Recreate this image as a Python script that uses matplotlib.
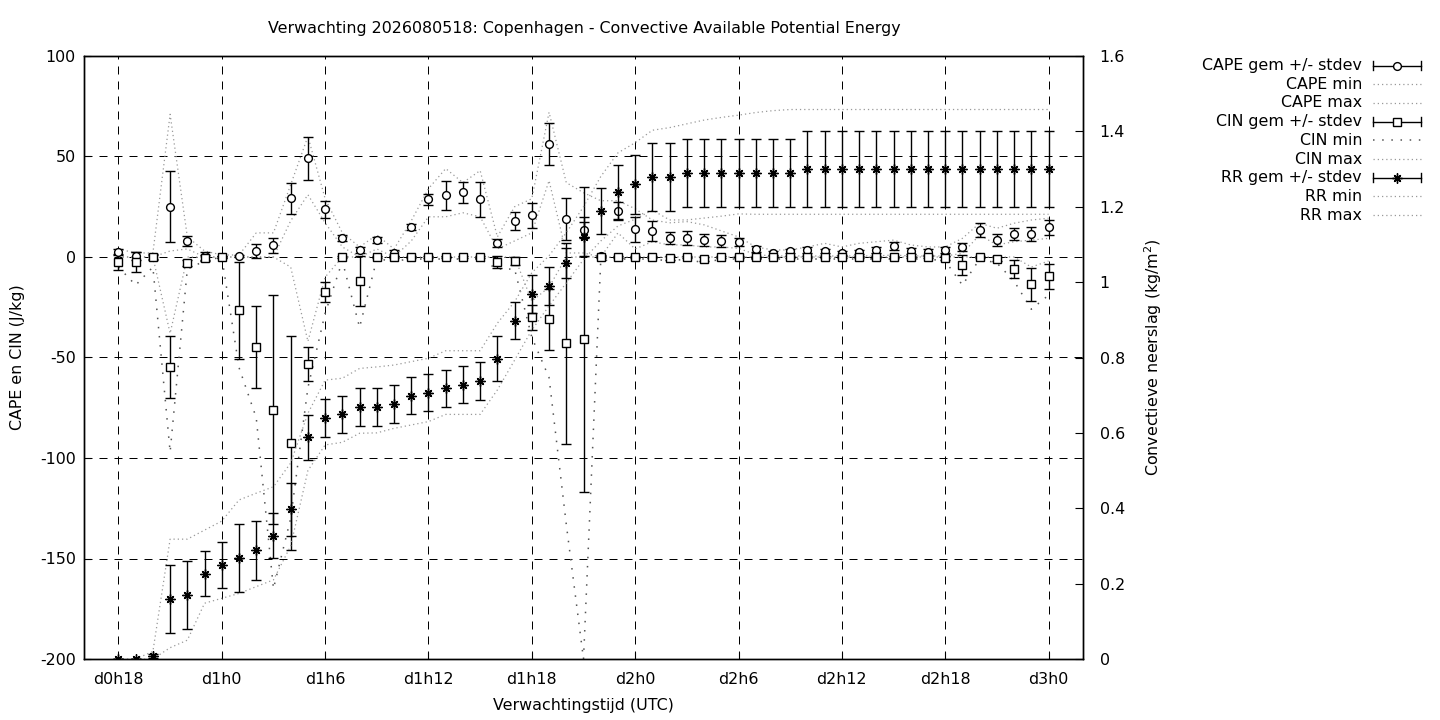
import matplotlib
matplotlib.use("Agg")
import matplotlib.pyplot as plt
from matplotlib.lines import Line2D

FS = 11.4
plt.rcParams['font.family'] = ['DejaVu Sans']
plt.rcParams['font.size'] = FS

hours = list(range(18, 73))
tick_hours = [18, 24, 30, 36, 42, 48, 54, 60, 66, 72]
tick_labels = ["d0h18", "d1h0", "d1h6", "d1h12", "d1h18", "d2h0", "d2h6", "d2h12", "d2h18", "d3h0"]

cape_mean = [2.5, 0.5, 0, 25, 8, 0.5, 0, 0.5, 2.8, 5.8,
             29.2, 49.1, 23.7, 9.3, 3.3, 8.3, 2.1, 14.8, 28.7, 30.7,
             32.3, 28.7, 7, 17.8, 20.7, 56.1, 18.8, 13.4, 0.3, 22.8,
             13.8, 13.1, 9.6, 9.6, 8.5, 8, 7.5, 4, 2.1, 2.8,
             3.3, 2.8, 1.8, 2.3, 3.3, 5.5, 3, 2.3, 3.3, 5.1,
             13.4, 8.3, 11.4, 11.4, 14.8]
cape_std = [1.5, 2, 1, 17.6, 2.5, 2, 0.5, 0.5, 3.5, 3.7,
            7.6, 10.7, 4.2, 1.5, 1.5, 1.5, 1.5, 1.5, 2.7, 7.2,
            5.2, 8.6, 2, 4.6, 6.4, 10.5, 10.4, 4, 0.5, 4.5,
            6.2, 5, 3, 3.5, 3, 3, 2, 1.5, 1, 1,
            1.5, 1, 1, 1, 1.5, 2, 1.5, 1.5, 1.5, 2,
            3.5, 3, 3, 3.5, 3.8]
cape_max = [4, 2, 2, 71, 10, 3, 1, 1, 12, 12,
            36, 60, 29, 12, 5, 11, 4, 18, 34, 44,
            37, 43, 10, 25, 29, 72, 37, 32, 28, 28,
            24, 18.4, 17, 17.6, 16, 13, 10, 5, 3.5, 3.5,
            5, 6.8, 5, 6.8, 7.6, 8.4, 6, 5, 5, 9.3,
            16.8, 14.3, 16.8, 18.4, 19.3]
cape_min = [0, 0, 0, 3, 4, 0, 0, 0, 0, 0,
            18, 31, 17, 5, 0, 4, 0, 8, 20, 20,
            22, 20, 4, 8, 12, 38, 2, 2, 0, 12,
            4, 7.6, 6, 6, 5, 5, 4.3, 1.2, 0.5, 0.5,
            0.5, 0.5, 0.5, 0.5, 0.5, 1, 0.5, 0.5, 0.5, 1.8,
            11, 6, 7.6, 8.4, 9.3]

cin_mean = [-2.6, -2.3, 0, -54.7, -3.1, -0.5, 0, -26.5, -44.8, -76,
            -92.5, -53.2, -17.2, 0, -12.1, 0, 0, 0, 0, 0,
            0, 0, -2.7, -1.9, -30, -31, -43, -41, 0, 0,
            0, 0, -0.5, 0, -1, 0, 0, 0, 0, 0,
            0, 0, 0, 0, 0, 0, 0, 0, -0.5, -4,
            0, -1, -6, -13.6, -9.7]
cin_std = [4, 5, 1.5, 15.6, 1.5, 1.5, 0.5, 24, 20.5, 57,
           53.4, 8.5, 5, 0.5, 12.4, 0.5, 0.5, 0.5, 0.5, 0.5,
           0.5, 0.5, 3, 2, 6.3, 15.3, 50, 76, 0.5, 0.5,
           0.5, 0.5, 1, 0.5, 1, 0.5, 0.5, 0.5, 0.5, 0.5,
           0.5, 0.5, 0.5, 0.5, 0.5, 0.5, 0.5, 0.5, 1, 5,
           0.5, 1, 4.6, 8.1, 6.3]
cin_min = [-5, -14, -5, -97, -6, -2, 0, -55, -80, -165,
           -130, -65, -28, -2, -35, -1, -2, -1, -1, -1,
           -1, -1, -6, -6, -40, -60, -133, -200, -2, -1,
           -1, -1, -2, -1, -3, -1, -1, -1, -1, -1,
           -1, -1, -1, -1, -1, -1, -1, -1, -2, -14,
           -1, -3, -12, -26, -19]
cin_max = [0, 0, 0, -38, 0, 0, 0, 0, 0, 0,
           -5, -42, -10, 0, 0, 0, 0, 0, 0, 0,
           0, 0, 0, 0, -22, -15, 0, 0, 0, 0,
           0, 0, 0, 0, 0, 0, 0, 0, 0, 0,
           0, 0, 0, 0, 0, 0, 0, 0, 0, 0,
           0, 0, 0, -5, -2]

rr_mean = [0, 0, 0.008, 0.16, 0.169, 0.226, 0.249, 0.267, 0.288, 0.327,
           0.397, 0.588, 0.639, 0.649, 0.668, 0.668, 0.677, 0.699, 0.707, 0.718,
           0.728, 0.738, 0.797, 0.898, 0.968, 0.99, 1.05, 1.12, 1.189, 1.239,
           1.26, 1.278, 1.278, 1.29, 1.29, 1.29, 1.29, 1.29, 1.29, 1.29,
           1.30, 1.30, 1.30, 1.30, 1.30, 1.30, 1.30, 1.30, 1.30, 1.30,
           1.30, 1.30, 1.30, 1.30, 1.30]
rr_std = [0, 0, 0.005, 0.09, 0.09, 0.06, 0.061, 0.09, 0.079, 0.06,
          0.071, 0.059, 0.05, 0.05, 0.05, 0.05, 0.05, 0.05, 0.05, 0.05,
          0.05, 0.05, 0.06, 0.05, 0.05, 0.05, 0.04, 0.052, 0.06, 0.072,
          0.078, 0.09, 0.09, 0.09, 0.09, 0.09, 0.09, 0.09, 0.09, 0.09,
          0.10, 0.10, 0.10, 0.10, 0.10, 0.10, 0.10, 0.10, 0.10, 0.10,
          0.10, 0.10, 0.10, 0.10, 0.10]
rr_max = [0, 0, 0.02, 0.318, 0.318, 0.342, 0.366, 0.422, 0.44, 0.457,
          0.52, 0.652, 0.74, 0.745, 0.771, 0.775, 0.78, 0.789, 0.798, 0.818,
          0.818, 0.818, 0.891, 0.948, 1.025, 1.07, 1.131, 1.2, 1.28, 1.343,
          1.37, 1.403, 1.41, 1.42, 1.43, 1.437, 1.443, 1.45, 1.455, 1.458,
          1.458, 1.458, 1.458, 1.458, 1.458, 1.458, 1.458, 1.458, 1.458, 1.458,
          1.458, 1.458, 1.458, 1.458, 1.458]
rr_min = [0, 0, 0, 0.03, 0.05, 0.148, 0.161, 0.174, 0.192, 0.21,
          0.3, 0.5, 0.568, 0.575, 0.599, 0.6, 0.612, 0.621, 0.63, 0.649,
          0.649, 0.649, 0.714, 0.793, 0.873, 0.937, 0.998, 1.06, 1.109, 1.149,
          1.167, 1.191, 1.165, 1.165, 1.17, 1.175, 1.181, 1.18, 1.18, 1.18,
          1.18, 1.18, 1.18, 1.18, 1.18, 1.18, 1.18, 1.18, 1.18, 1.18,
          1.18, 1.18, 1.18, 1.18, 1.18]

W, H = 1440, 720
fig = plt.figure(figsize=(W / 100, H / 100), dpi=100)
ax = fig.add_axes([84 / W, 61 / H, 999 / W, 603 / H])
ax2 = ax.twinx()

# styles
fine_dot = dict(color='#999999', lw=0.9, linestyle=(0, (1, 2.4)))
sparse_dot = dict(color='#555555', lw=1.1, linestyle=(0, (1, 5)))
eb_kw = dict(ecolor='black', elinewidth=1.0, capsize=3.4, capthick=1.0, color='black')

ax.set_xlim(16, 74)
ax.set_ylim(-200, 100)
ax2.set_ylim(0, 1.6)

# grid
for v in [-150, -100, -50, 0, 50]:
    ax.axhline(v, color='black', lw=0.72, linestyle=(0, (8, 7)), zorder=1)
for t in tick_hours:
    ax.axvline(t, color='black', lw=0.72, linestyle=(0, (8, 7)), zorder=1)

# min/max lines
ax.plot(hours, cape_min, zorder=2, **fine_dot)
ax.plot(hours, cape_max, zorder=2, **fine_dot)
ax.plot(hours, cin_min, zorder=2, **sparse_dot)
ax.plot(hours, cin_max, zorder=2, **fine_dot)
ax2.plot(hours, rr_min, zorder=2, **fine_dot)
ax2.plot(hours, rr_max, zorder=2, **fine_dot)

# mean +/- stdev
ax.errorbar(hours, cape_mean, yerr=cape_std, fmt='o', ms=5.6, mfc='white', mec='black',
            mew=1.0, zorder=4, **eb_kw)
ax.errorbar(hours, cin_mean, yerr=cin_std, fmt='s', ms=5.3, mfc='white', mec='black',
            mew=1.0, zorder=4, **eb_kw)
ax2.errorbar(hours, rr_mean, yerr=rr_std, fmt='none', zorder=4, **eb_kw)
ax2.plot(hours, rr_mean, linestyle='none', marker=(4, 2, 0), ms=6.5, mec='black', mew=1.0, zorder=5)
ax2.plot(hours, rr_mean, linestyle='none', marker=(4, 2, 45), ms=6.5, mec='black', mew=1.0, zorder=5)

# axes
ax.set_xticks(tick_hours)
ax.set_xticklabels(tick_labels)
ax.set_yticks([-200, -150, -100, -50, 0, 50, 100])
ax.set_yticklabels(['-200', '-150', '-100', '-50', '0', '50', '100'])
ax2.set_yticks([0, 0.2, 0.4, 0.6, 0.8, 1, 1.2, 1.4, 1.6])
ax2.set_yticklabels(['0', '0.2', '0.4', '0.6', '0.8', '1', '1.2', '1.4', '1.6'])
ax.tick_params(axis='x', direction='in', length=5, width=0.8, pad=9, labelsize=FS)
ax.tick_params(axis='y', direction='in', length=5, width=0.8, pad=6, labelsize=FS)
ax2.tick_params(axis='y', direction='in', length=6, width=0.8, pad=12, labelsize=FS)
for a in (ax, ax2):
    for s in a.spines.values():
        s.set_linewidth(1.0)

ax.set_xlabel('Verwachtingstijd (UTC)', fontsize=FS, labelpad=8)
fig.text(18 / W, 1 - 357 / H, 'CAPE en CIN (J/kg)', rotation=90, ha='center', va='center', fontsize=FS)
fig.text(1153 / W, 1 - 357 / H, 'Convectieve neerslag (kg/m$^2$)', rotation=90, ha='center', va='center', fontsize=FS)
fig.text(584 / W, 1 - 29 / H, 'Verwachting 2026080518: Copenhagen - Convective Available Potential Energy',
         ha='center', va='center', fontsize=FS)

# legend (manual, gnuplot style)
lax = fig.add_axes([0, 0, 1, 1])
lax.set_xlim(0, W)
lax.set_ylim(H, 0)
lax.axis('off')
entries = [
    ('CAPE gem +/- stdev', 'eb', 'o'),
    ('CAPE min', 'fine', None),
    ('CAPE max', 'fine', None),
    ('CIN gem +/- stdev', 'eb', 's'),
    ('CIN min', 'sparse', None),
    ('CIN max', 'fine', None),
    ('RR gem +/- stdev', 'eb', '*'),
    ('RR min', 'fine', None),
    ('RR max', 'fine', None),
]
y0, dy = 65.5, 18.7
x_text, xs0, xs1 = 1362, 1373, 1421
for i, (lab, kind, mk) in enumerate(entries):
    y = y0 + i * dy
    lax.text(x_text, y, lab, ha='right', va='center', fontsize=FS)
    if kind == 'eb':
        lax.add_line(Line2D([xs0, xs1], [y, y], color='black', lw=1.0))
        lax.add_line(Line2D([xs0, xs0], [y - 4.5, y + 4.5], color='black', lw=1.0))
        lax.add_line(Line2D([xs1, xs1], [y - 4.5, y + 4.5], color='black', lw=1.0))
        xm = (xs0 + xs1) / 2
        if mk == '*':
            lax.plot([xm], [y], marker=(4, 2, 0), ms=6.5, mec='black', mew=1.0)
            lax.plot([xm], [y], marker=(4, 2, 45), ms=6.5, mec='black', mew=1.0)
        else:
            lax.plot([xm], [y], marker=mk, ms=5.6 if mk == 'o' else 5.3, mfc='white', mec='black', mew=1.0)
    elif kind == 'fine':
        lax.add_line(Line2D([xs0, xs1], [y, y], **fine_dot))
    else:
        lax.add_line(Line2D([xs0, xs1], [y, y], **sparse_dot))

fig.savefig('out.png', dpi=100)
